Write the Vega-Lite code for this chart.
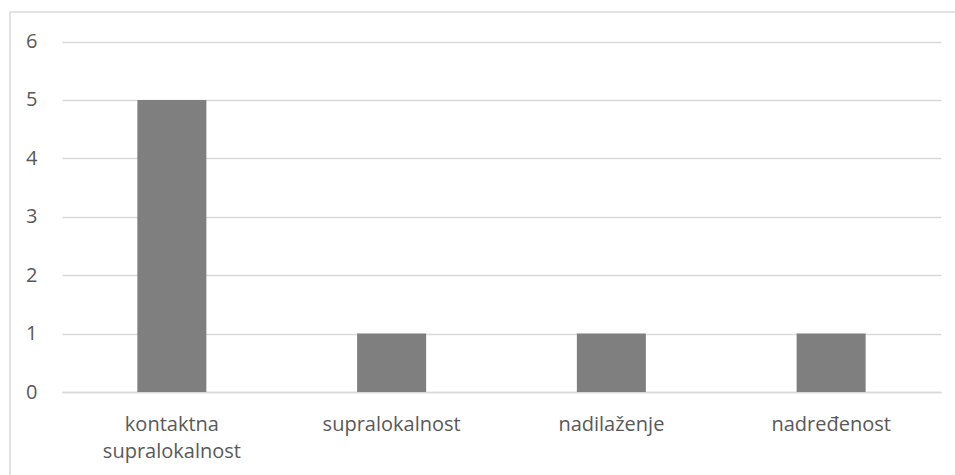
{
  "$schema": "https://vega.github.io/schema/vega-lite/v6.json",
  "autosize": "none",
  "width": 945,
  "height": 463,
  "padding": {"left": 10, "top": 12, "right": 0, "bottom": 0},
  "background": "white",
  "data": {"values": [
    {"kategorija": "kontaktna supralokalnost", "vrijednost": 5},
    {"kategorija": "supralokalnost", "vrijednost": 1},
    {"kategorija": "nadilaženje", "vrijednost": 1},
    {"kategorija": "nadređenost", "vrijednost": 1}
  ]},
  "mark": {"type": "bar", "color": "#7f7f7f"},
  "encoding": {
    "x": {
      "field": "kategorija", "type": "nominal", "sort": null,
      "scale": {"paddingInner": 0.686, "paddingOuter": 0.343, "range": [52, 931]},
      "axis": {
        "title": null, "labelAngle": 0, "ticks": false, "offset": -83,
        "domainColor": "#d9d9d9", "domainWidth": 1.5,
        "labelFont": "Open Sans", "labelFontSize": 20, "labelColor": "#595959",
        "labelPadding": 22, "labelLineHeight": 27, "labelOverlap": false,
        "labelExpr": "datum.value == 'kontaktna supralokalnost' ? ['kontaktna', 'supralokalnost'] : datum.label"
      }
    },
    "y": {
      "field": "vrijednost", "type": "quantitative",
      "scale": {"domain": [0, 6], "range": [380, 29.5]},
      "axis": {
        "title": null, "values": [0, 1, 2, 3, 4, 5, 6], "offset": -52,
        "domain": false, "ticks": false, "labelOverlap": false,
        "gridColor": "#d9d9d9", "gridWidth": 1.5,
        "labelFont": "Open Sans", "labelFontSize": 20, "labelColor": "#595959",
        "labelPadding": 25
      }
    }
  },
  "config": {"view": {"stroke": "#d9d9d9", "strokeWidth": 1.5, "strokeDash": [945, 1408, 463, 0]}}
}
